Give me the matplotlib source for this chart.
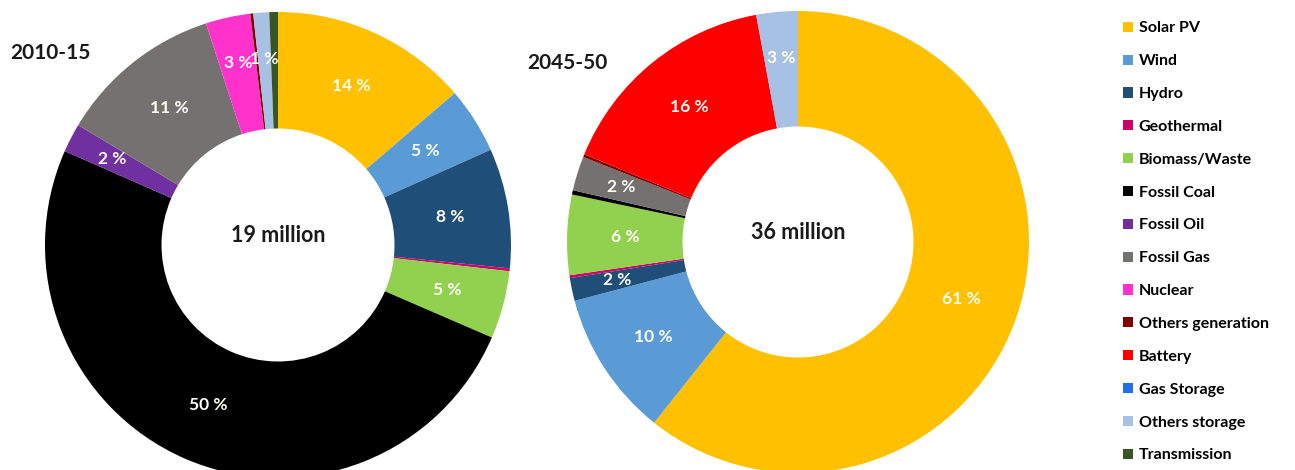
import numpy as np
import matplotlib.pyplot as plt
from matplotlib.patches import Patch

# Generation / storage mix, share of total in %
sources = ["Solar PV", "Wind", "Hydro", "Geothermal", "Biomass/Waste",
           "Fossil Coal", "Fossil Oil", "Fossil Gas", "Nuclear",
           "Others generation", "Battery", "Gas Storage",
           "Others storage", "Transmission"]
colors = ["#FFC000", "#5B9BD5", "#1F4E79", "#CC0066", "#92D050",
          "#000000", "#7030A0", "#767171", "#FF33CC",
          "#800000", "#FF0000", "#1E6FE8", "#A6C1E4", "#375623"]

share_2010 = [13.7, 4.6, 8.3, 0.2, 4.7, 50.1, 2.0, 11.4, 3.1, 0.2, 0.0, 0.0, 1.1, 0.6]
share_2050 = [60.7, 10.2, 1.6, 0.2, 5.6, 0.3, 0.0, 2.4, 0.0, 0.2, 15.9, 0.0, 2.9, 0.0]

periods = ["2010-15", "2045-50"]
totals = ["19 million", "36 million"]

plt.rcParams['font.family'] = ['Lato', 'DejaVu Sans']

fig = plt.figure(figsize=(12.95, 4.70), dpi=100)


def donut(ax, shares, total):
    wedges, _ = ax.pie(shares, colors=colors, radius=1, startangle=90,
                       counterclock=False,
                       wedgeprops=dict(width=0.5, linewidth=0))
    for w, v in zip(wedges, shares):
        if v < 1:
            continue
        ang = np.deg2rad((w.theta1 + w.theta2) / 2)
        r = 0.8 if v < 4 else 0.75
        ax.text(r * np.cos(ang), r * np.sin(ang), f"{v:.0f} %",
                ha="center", va="center", color="#FFFFF4",
                fontsize=12.5, fontweight="bold")
    ax.text(0, 0.04, total, ha="center", va="center",
            fontsize=15.5, fontweight="bold", color="#1a1a1a")
    ax.set_xlim(-1, 1)
    ax.set_ylim(-1, 1)
    ax.set_aspect("equal")
    ax.axis("off")


W, H = 1295, 470
# axes boxes in pixels: centre x, centre y (from top), radius
boxes = [(278, 245, 233), (798, 242, 231)]
for (cx, cy, R), shares, total in zip(boxes, [share_2010, share_2050], totals):
    ax = fig.add_axes([(cx - R) / W, (H - cy - R) / H, 2 * R / W, 2 * R / H])
    donut(ax, shares, total)

fig.text(10 / W, 1 - 53 / H, periods[0], ha="left", va="center",
         fontsize=15, fontweight="bold", color="#1a1a1a")
fig.text(527 / W, 1 - 63 / H, periods[1], ha="left", va="center",
         fontsize=15, fontweight="bold", color="#1a1a1a")

handles = [Patch(facecolor=c, edgecolor="none") for c in colors]
fig.legend(handles, sources, loc="upper left",
           bbox_to_anchor=(1109 / W, 1 - 7 / H), frameon=False,
           handlelength=0.6, handleheight=0.6, handletextpad=0.35,
           labelspacing=1.18, prop=dict(size=11.5, weight="bold"))

fig.savefig("out.png", dpi=100)
